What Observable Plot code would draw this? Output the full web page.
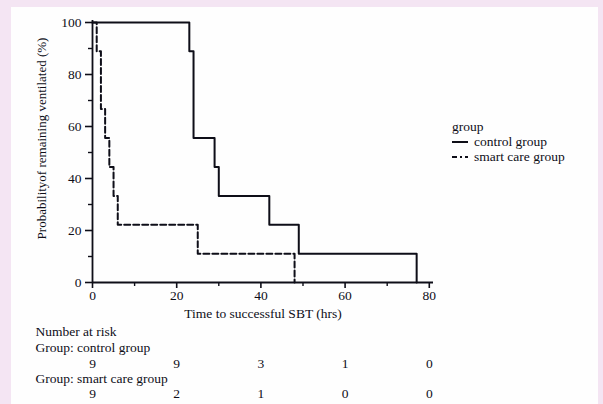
<!DOCTYPE html>
<html>
<head>
<meta charset="utf-8">
<script src="https://cdn.jsdelivr.net/npm/d3@7"></script>
<script src="https://cdn.jsdelivr.net/npm/@observablehq/plot@0.6"></script>
<style>
  html, body { margin: 0; padding: 0; background: #f4e5f3; }
  #wrap { position: relative; width: 603px; height: 404px; overflow: hidden; }
  #paper { position: absolute; left: 11px; top: 7px; width: 587px; height: 397px; background: #fefefe; }
  #chart { position: absolute; left: 0; top: 0; }
  #legend { position: absolute; left: 0; top: 0; }
  text { font-family: "Liberation Serif", "DejaVu Serif", serif; }
</style>
</head>
<body>
<div id="wrap">
  <div id="paper"></div>
  <div id="chart"></div>
  <svg id="legend" width="603" height="404"></svg>
</div>
<script>
// Kaplan-Meier step points (time in hrs, % remaining ventilated)
const controlTimes = [0, 23, 24, 29, 30, 42, 49, 77];
const controlSurv  = [100, 88.9, 55.6, 44.4, 33.3, 22.2, 11.1, 0];
const smartTimes   = [0, 1, 2, 3, 4, 5, 6, 25, 48];
const smartSurv    = [100, 88.9, 66.7, 55.6, 44.4, 33.3, 22.2, 11.1, 0];

// Number at risk table
const riskTimes   = [0, 20, 40, 60, 80];
const riskControl = [9, 9, 3, 1, 0];
const riskSmart   = [9, 2, 1, 0, 0];

const xMajor = [0, 20, 40, 60, 80];
const xMinor = [10, 30, 50, 70];
const yMajor = [0, 20, 40, 60, 80, 100];
const yMinor = [10, 30, 50, 70, 90];

const groups = ["control group", "smart care group"];

const control = controlTimes.map((t, i) => ({time: t, surv: controlSurv[i]}));
const smart = smartTimes.map((t, i) => ({time: t, surv: smartSurv[i]}));
const riskC = riskTimes.map((t, i) => ({time: t, n: riskControl[i]}));
const riskS = riskTimes.map((t, i) => ({time: t, n: riskSmart[i]}));

const ink = "#0e0e18";
const font = "'Liberation Serif', 'DejaVu Serif', serif";
const fs = 13.5;

const plot = Plot.plot({
  width: 603,
  height: 404,
  marginLeft: 92,
  marginRight: 170,
  marginTop: 22,
  marginBottom: 122,
  style: {background: "transparent", fontFamily: font, fontSize: fs + "px", color: ink, overflow: "visible"},
  x: {domain: [0, 81]},
  y: {domain: [0, 100]},
  marks: [
    Plot.axisX({ticks: xMajor, tickSize: 6, tickPadding: 2, strokeWidth: 1.6, label: null, fontSize: fs}),
    Plot.axisX({ticks: xMinor, tickSize: 4, text: null, strokeWidth: 1.4, label: null}),
    Plot.axisY({ticks: yMajor, tickSize: 7, tickPadding: 4, strokeWidth: 1.6, label: null, fontSize: fs}),
    Plot.axisY({ticks: yMinor, tickSize: 4, text: null, strokeWidth: 1.4, label: null}),
    Plot.ruleX([0], {y1: 0, y2: 100.8, stroke: ink, strokeWidth: 1.8}),
    Plot.ruleY([0], {x1: 0, x2: 81, stroke: ink, strokeWidth: 1.8}),
    Plot.line(smart, {x: "time", y: "surv", curve: "step-after", stroke: ink, strokeWidth: 2, strokeDasharray: "6,3"}),
    Plot.line(control, {x: "time", y: "surv", curve: "step-after", stroke: ink, strokeWidth: 2}),
    // axis titles
    Plot.text(["Time to successful SBT (hrs)"], {frameAnchor: "bottom", dy: 35, fontSize: fs, fill: ink}),
    Plot.text(["Probabilityof remaining ventilated (%)"], {frameAnchor: "left", textAnchor: "middle", rotate: -90, dx: -51, dy: -14, fontSize: 13, fill: ink}),
    // number at risk table
    Plot.text(["Number at risk"], {x: 0, frameAnchor: "bottom", textAnchor: "start", dx: -57, dy: 53, fontSize: fs, fill: ink}),
    Plot.text(["Group: " + groups[0]], {x: 0, frameAnchor: "bottom", textAnchor: "start", dx: -57, dy: 69, fontSize: fs, fill: ink}),
    Plot.text(riskC, {x: "time", text: "n", frameAnchor: "bottom", dy: 85, fontSize: fs, fill: ink}),
    Plot.text(["Group: " + groups[1]], {x: 0, frameAnchor: "bottom", textAnchor: "start", dx: -57, dy: 100, fontSize: fs, fill: ink}),
    Plot.text(riskS, {x: "time", text: "n", frameAnchor: "bottom", dy: 115, fontSize: fs, fill: ink})
  ]
});
document.getElementById("chart").appendChild(plot);

// legend
const lg = d3.select("#legend").append("g").attr("font-family", font).attr("font-size", fs).attr("fill", ink);
lg.append("text").attr("x", 452).attr("y", 131).text("group");
const items = [{name: groups[0], dash: null, y: 142}, {name: groups[1], dash: "5,3,2,3", y: 157}];
items.forEach(it => {
  const l = lg.append("line").attr("x1", 452).attr("x2", 468).attr("y1", it.y).attr("y2", it.y)
    .attr("stroke", ink).attr("stroke-width", 2);
  if (it.dash) l.attr("stroke-dasharray", it.dash);
  lg.append("text").attr("x", 474).attr("y", it.y + 4).text(it.name);
});
</script>
</body>
</html>
